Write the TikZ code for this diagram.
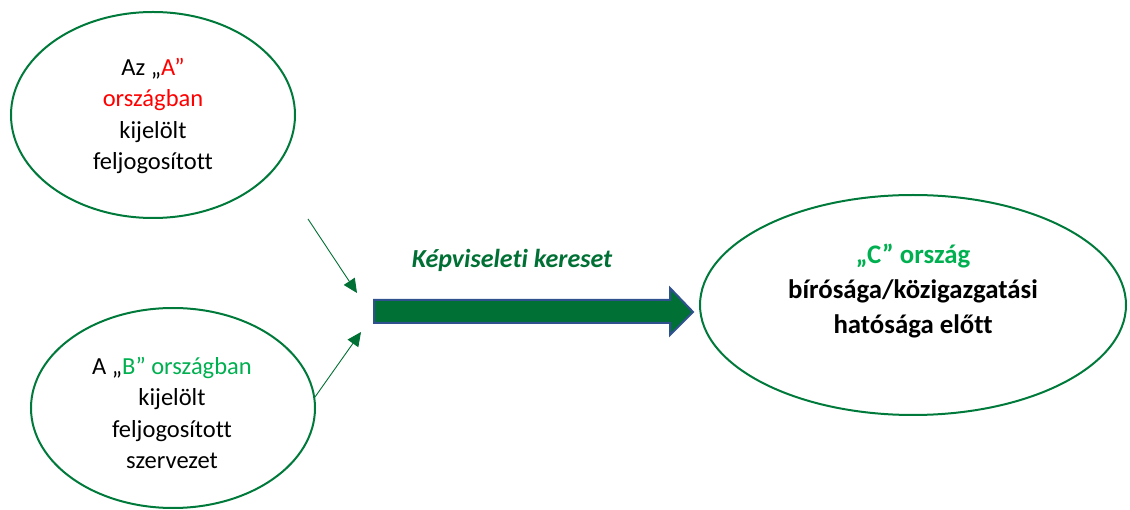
\documentclass[tikz,border=0pt]{standalone}
\usepackage{fontspec}
\setmainfont{Carlito}[Ligatures=NoCommon]
\usetikzlibrary{shapes.geometric,arrows.meta}
\definecolor{ringgreen}{RGB}{0,122,58}
\definecolor{darkgreen}{RGB}{0,112,52}
\definecolor{brightgreen}{RGB}{0,176,80}
\definecolor{arrowblue}{RGB}{47,82,143}
\begin{document}
\begin{tikzpicture}[x=1pt,y=-1pt,
  ring/.style={ellipse,draw=ringgreen,line width=2pt,inner sep=0pt},
  txt/.style={align=center,font=\fontsize{24.5}{31.5}\selectfont,inner sep=0pt},
  boldtxt/.style={align=center,font=\fontsize{26.8}{35}\selectfont\bfseries,inner sep=0pt},
  thin/.style={draw=darkgreen,line width=0.9pt,-{Triangle[length=14pt,width=13pt]}},
  bigarrow/.style={fill=darkgreen,draw=arrowblue,line width=2pt}]
\useasboundingbox (0,0) rectangle (1130,510);
\node[ring,minimum width=284pt,minimum height=206pt] (A) at (153,115) {};
\node[txt] (At) at (153,116) {Az „\textcolor{red}{A”}\\\textcolor{red}{országban}\\kijelölt\\feljogosított};
\node[ring,minimum width=284pt,minimum height=200pt] (B) at (173,408) {};
\node[txt] (Bt) at (172,413) {A „\textcolor{brightgreen}{B” országban}\\kijelölt\\feljogosított\\szervezet};
\node[ring,minimum width=426pt,minimum height=220pt] (C) at (913,305) {};
\node[boldtxt] (Ct) at (913,291) {\textcolor{brightgreen}{„C” ország}\\bírósága/közigazgatási\\hatósága előtt};
\node[font=\fontsize{26}{30}\selectfont\bfseries\itshape,text=darkgreen,inner sep=0pt] (K) at (512,260) {Képviseleti kereset};
\draw[bigarrow] (374,300) -- (670,300) -- (670,288) -- (693,312) -- (670,335) -- (670,323) -- (374,323) -- cycle;
\coordinate (s1) at (308,219);
\coordinate (e1) at (357,293);
\coordinate (s2) at (315,397);
\coordinate (e2) at (361,332);
\draw[thin] (s1) -- (e1);
\draw[thin] (s2) -- (e2);
\end{tikzpicture}
\end{document}
